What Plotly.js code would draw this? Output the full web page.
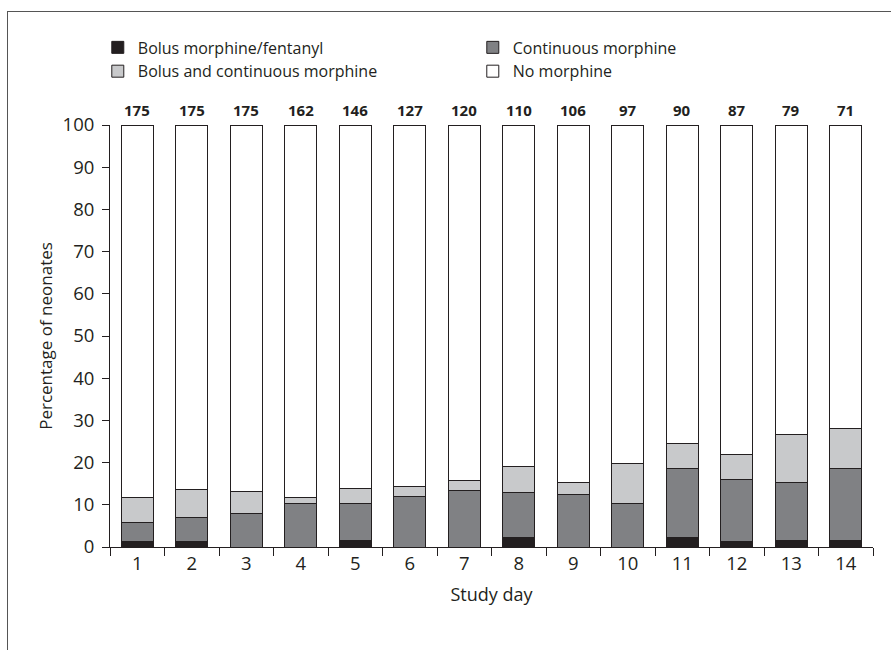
<!DOCTYPE html>
<html>
<head>
<meta charset="utf-8">
<script src="https://cdn.plot.ly/plotly-3.0.1.min.js"></script>
<style>
html,body{margin:0;padding:0;background:#fff;}
#wrap{position:relative;width:891px;height:650px;}
#chart{position:absolute;left:0;top:0;width:891px;height:650px;}
#frame{position:absolute;left:7px;top:11px;width:884px;height:639px;border-left:1.5px solid #555;border-top:1.5px solid #555;pointer-events:none;}
</style>
</head>
<body>
<div id="wrap"><div id="chart"></div><div id="frame"></div></div>
<script>
// Study days
const days = ['1','2','3','4','5','6','7','8','9','10','11','12','13','14'];
// Number of neonates per day (labels above bars)
const nNeonates = [175,175,175,162,146,127,120,110,106,97,90,87,79,71];
// Cumulative tops (percent)
const topBolus      = [1.3,1.3,0,0,1.6,0,0,2.3,0,0,2.3,1.3,1.5,1.5];
const topContinuous = [5.9,6.9,7.9,10.4,10.4,11.9,13.5,12.8,12.5,10.4,18.7,16.0,15.2,18.5];
const topBoth       = [11.7,13.7,13.2,11.7,13.8,14.3,15.7,19.0,15.3,19.8,24.5,21.9,26.6,28.0];

// Segment values
const bolus = topBolus.slice();
const continuous = topContinuous.map((v,i)=> +(v - topBolus[i]).toFixed(2));
const both = topBoth.map((v,i)=> +(v - topContinuous[i]).toFixed(2));
const none = topBoth.map(v=> +(100 - v).toFixed(2));

const edge = {color:'#231f20', width:1};
function tr(name, y, color){
  return {type:'bar', name:name, x:days, y:y, marker:{color:color, line:edge}, hoverinfo:'y+name'};
}
const data = [
  tr('Bolus morphine/fentanyl', bolus, '#231f20'),
  tr('Continuous morphine', continuous, '#808184'),
  tr('Bolus and continuous morphine', both, '#c8c9cb'),
  tr('No morphine', none, '#ffffff')
];

const fontFam = '"Open Sans", "Noto Sans", sans-serif';
const annotations = days.map((d,i)=>({
  x:i, y:100, xref:'x', yref:'y', text:'<b>'+nNeonates[i]+'</b>',
  showarrow:false, yanchor:'bottom', yshift:3,
  font:{family:fontFam, size:15, color:'#231f20'}
}));

const layout = {
  width:891, height:650,
  margin:{l:110, r:18, t:125, b:103, pad:0},
  paper_bgcolor:'#fff', plot_bgcolor:'#fff',
  barmode:'stack', bargap:0.41,
  font:{family:fontFam, color:'#231f20'},
  showlegend:true,
  legend:{orientation:'h', x:-0.016, xanchor:'left', y:1.224, yanchor:'top',
          entrywidth:330, entrywidthmode:'pixels', traceorder:'normal',
          font:{family:fontFam, size:16, color:'#231f20'}, itemwidth:30, tracegroupgap:0},
  xaxis:{type:'category', range:[-0.5,13.5], tickson:'boundaries', ticks:'outside', ticklen:8, tickwidth:1,
         tickcolor:'#231f20', showline:true, linecolor:'#231f20', linewidth:1,
         showgrid:false, zeroline:false,
         tickfont:{family:fontFam, size:18.5, color:'#231f20'},
         title:{text:'Study day', font:{family:fontFam, size:18, color:'#231f20'}, standoff:14}},
  yaxis:{range:[0,100], tickvals:[0,10,20,30,40,50,60,70,80,90,100], ticks:'outside', ticklen:7,
         tickwidth:1, tickcolor:'#231f20', showline:true, linecolor:'#231f20', linewidth:1,
         showgrid:false, zeroline:false, ticklabelstandoff:4,
         tickfont:{family:fontFam, size:18.5, color:'#231f20'},
         title:{text:'Percentage of neonates', font:{family:fontFam, size:17, color:'#231f20'}, standoff:5}},
  annotations:annotations
};
Plotly.newPlot('chart', data, layout, {displayModeBar:false, staticPlot:true});
</script>
</body>
</html>
